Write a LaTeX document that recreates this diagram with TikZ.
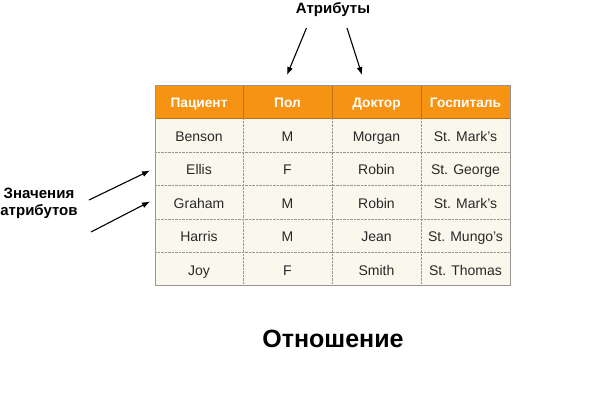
\documentclass[tikz,border=0pt]{standalone}
\usepackage{fontspec}
\setmainfont{Liberation Sans}
\usepackage{xcolor}
\usepackage{tikz}
\usetikzlibrary{arrows.meta}

\definecolor{headorange}{RGB}{247,147,18}
\definecolor{headline}{RGB}{190,110,20}
\definecolor{cellcream}{RGB}{250,247,236}
\definecolor{gridgray}{RGB}{150,150,150}
\definecolor{celltext}{RGB}{40,40,40}

\tikzset{
  headcell/.style={anchor=base, text=white, font=\fontsize{13.7}{16}\selectfont\bfseries},
  bodycell/.style={anchor=base, text=celltext, font=\fontsize{14}{16}\selectfont},
  caption/.style={anchor=base, font=\fontsize{15}{17}\selectfont\bfseries, align=center},
  pointer/.style={line width=1.1pt, -{Latex[length=8pt, width=6pt]}},
}

\begin{document}
\begin{tikzpicture}[x=1pt, y=-1pt]
    \useasboundingbox (0, 0) rectangle (600, 410);

    \fill[cellcream] (155, 118) rectangle (510, 285);
    \fill[headorange] (155, 85) rectangle (510, 118);
    \draw[headline, thin] (155, 118) -- (510, 118);
    \foreach \x in {243, 332, 421}
      \draw[headline, thin] (\x, 85) -- (\x, 118);
    \foreach \x in {243, 332, 421}
      \draw[gridgray, densely dotted, thin] (\x, 118) -- (\x, 285);
    \foreach \y in {152, 185.5, 219, 252}
      \draw[gridgray, densely dotted, thin] (155, \y) -- (510, \y);
    \draw[gridgray, thin] (155, 85) rectangle (510, 285);

    \node[headcell] (head-1) at (199, 107.3) {Пациент};
    \node[headcell] (head-2) at (287.5, 107.3) {Пол};
    \node[headcell] (head-3) at (376.5, 107.3) {Доктор};
    \node[headcell] (head-4) at (465.5, 107.3) {Госпиталь};

    \foreach \a/\b/\c/\d [count=\r] in {Benson/M/Morgan/St. Mark’s,
        Ellis/F/Robin/St. George, Graham/M/Robin/St. Mark’s,
        Harris/M/Jean/St. Mungo’s, Joy/F/Smith/St. Thomas} {
      \pgfmathsetmacro{\yr}{107.8 + 33.5*\r}
      \node[bodycell] (cell-\r-1) at (199, \yr) {\a};
      \node[bodycell] (cell-\r-2) at (287.5, \yr) {\b};
      \node[bodycell] (cell-\r-3) at (376.5, \yr) {\c};
      \node[bodycell] (cell-\r-4) at (465.5, \yr) {\d};
    }

    \node[caption] (attrs) at (333, 13.5) {Атрибуты};
    \node[caption] (values) at (39, 215) {Значения\\атрибутов};
    \node[anchor=base, font=\fontsize{25}{28}\selectfont\bfseries] (relation) at (333, 347) {Отношение};

    \coordinate (attrs-l) at (306.5, 28);
    \coordinate (attrs-r) at (347, 28);
    \coordinate (pol-top) at (287, 75);
    \coordinate (doc-top) at (362, 75);
    \coordinate (values-t) at (89, 200);
    \coordinate (values-b) at (91, 232);
    \coordinate (ellis-left) at (150, 170.5);
    \coordinate (graham-left) at (150, 201.5);

    \draw[pointer] (attrs-l) -- (pol-top);
    \draw[pointer] (attrs-r) -- (doc-top);
    \draw[pointer] (values-t) -- (ellis-left);
    \draw[pointer] (values-b) -- (graham-left);
\end{tikzpicture}
\end{document}
